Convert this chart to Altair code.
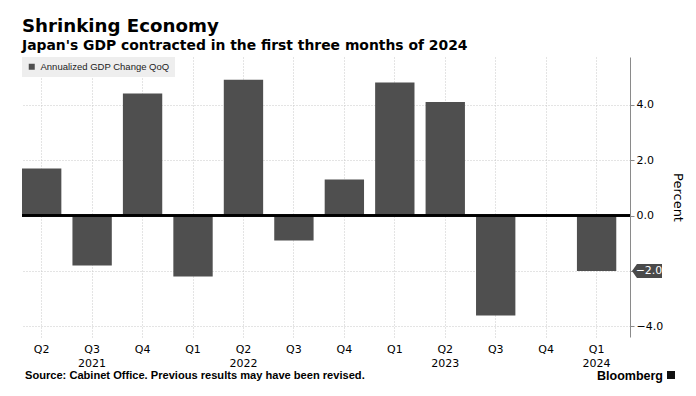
import altair as alt
import pandas as pd

quarters = ["Q2", "Q3", "Q4", "Q1", "Q2", "Q3", "Q4", "Q1", "Q2", "Q3", "Q4", "Q1"]
years = ["2021", "2021", "2021", "2022", "2022", "2022", "2022", "2023", "2023", "2023", "2023", "2024"]
values = [1.7, -1.8, 4.4, -2.2, 4.9, -0.9, 1.3, 4.8, 4.1, -3.6, 0.0, -2.0]
year_label_at = ["Q3 2021", "Q2 2022", "Q2 2023", "Q1 2024"]
y_ticks = [-4, -2, 0, 2, 4]
series_name = "Annualized GDP Change QoQ"

keys = [f"{q} {y}" for q, y in zip(quarters, years)]
df = pd.DataFrame({"key": keys, "value": values, "series": series_name})
last_key = keys[-1]
last_value = values[-1]

label_font = "DejaVu Sans"
bar_color = "#4f4f4f"

year_arr = "[" + ",".join(f"'{k}'" for k in year_label_at) + "]"
label_expr = (
    f"indexof({year_arr}, datum.value) >= 0 ? "
    "[split(datum.value, ' ')[0], split(datum.value, ' ')[1]] : split(datum.value, ' ')[0]"
)

x_enc = alt.X(
    "key:N",
    sort=keys,
    scale=alt.Scale(paddingInner=0.22, paddingOuter=0.136, align=0),
    axis=alt.Axis(
        title=None, domain=False, ticks=False, grid=True, gridDash=[1, 2],
        gridColor="#c8c8c8", labelExpr=label_expr, labelAngle=0, labelFont=label_font,
        labelFontSize=11, labelColor="#000000", labelPadding=6, labelLineHeight=14,
        bandPosition=0.5,
    ),
)
y_scale = alt.Scale(domain=[-4.38, 5.72], nice=False, zero=False)

bars = alt.Chart(df).mark_bar(color=bar_color).encode(
    x=x_enc,
    y=alt.Y(
        "value:Q", scale=y_scale,
        axis=alt.Axis(
            orient="right", values=y_ticks, format=".1f", title="Percent",
            labelExpr=f"datum.value == {last_value} ? '' : datum.label",
            grid=True, gridDash=[1, 2], gridColor="#c8c8c8", domainColor="#8a8a8a",
            tickColor="#8a8a8a", tickSize=4, labelFont=label_font, labelFontSize=11,
            labelColor="#000000", labelPadding=2, titleFont=label_font,
            titleFontSize=13, titleFontWeight="normal", titleColor="#000000",
            titlePadding=8,
        ),
    ),
    color=alt.Color(
        "series:N",
        scale=alt.Scale(domain=[series_name], range=[bar_color]),
        legend=alt.Legend(
            title=None, orient="top-left", offset=0, padding=5, fillColor="#eeeeee",
            symbolType="square", symbolSize=36, symbolStrokeWidth=0,
            labelFont="Liberation Sans", labelFontSize=9.5, labelColor="#222222",
            labelOffset=4,
        ),
    ),
)

zero = alt.Chart(df).mark_rule(color="#000000", strokeWidth=1.5).encode(y=alt.datum(0))

last = alt.Chart(df).transform_filter(alt.datum.key == last_key)
tag = last.mark_point(
    shape="M -1 0 L -0.67 -0.47 L 1 -0.47 L 1 0.47 L -0.67 0.47 Z",
    size=900, filled=True, color="#4a4a4a", opacity=1,
).encode(x=alt.value(625), y=alt.Y("value:Q"))
tag_text = last.mark_text(
    color="#ffffff", font=label_font, fontSize=11, align="center", baseline="middle"
).encode(x=alt.value(627), y=alt.Y("value:Q"), text=alt.Text("value:Q", format=".1f"))

note_df = pd.DataFrame({"a": [0]})
source = alt.Chart(note_df).mark_text(
    text="Source: Cabinet Office. Previous results may have been revised.",
    font="Liberation Sans", fontSize=11.1, fontWeight="bold", align="left",
    baseline="middle", color="#000000",
).encode(x=alt.value(3), y=alt.value(319))
brand = alt.Chart(note_df).mark_text(
    text="Bloomberg", font="Liberation Sans", fontSize=12.5, fontWeight="bold",
    align="left", baseline="middle", color="#000000",
).encode(x=alt.value(575), y=alt.value(319))
icon = alt.Chart(note_df).mark_point(
    shape="square", size=64, filled=True, color="#111111", opacity=1
).encode(x=alt.value(649), y=alt.value(318))

chart = alt.layer(bars, zero, tag, tag_text, source, brand, icon).properties(
    width=608, height=280,
    autosize=alt.AutoSizeParams(type="none"),
    padding={"left": 14, "top": 49, "right": 58, "bottom": 51},
    title=alt.Title(
        text="Shrinking Economy",
        subtitle="Japan's GDP contracted in the first three months of 2024",
        anchor="start", frame="group", font="DejaVu Sans", fontSize=18.2,
        fontWeight="bold", color="#000000", subtitleFont="DejaVu Sans",
        subtitleFontSize=13.9, subtitleFontWeight="bold", subtitleColor="#000000",
        subtitlePadding=3, offset=3,
    ),
).configure_view(stroke=None)

chart.save("out.html", embed_options={"renderer": "svg", "actions": False})
